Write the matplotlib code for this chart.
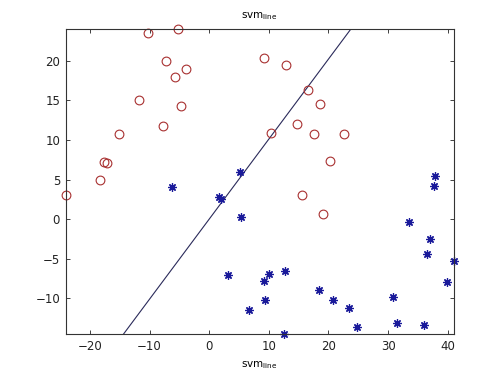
import matplotlib
matplotlib.use("Agg")
import matplotlib.pyplot as plt
import numpy as np

# Class 1 (red circles)
red_x = [-10.2, -5.2, -7.2, -3.9, -5.8, -11.8, -4.7, -7.7, -15.1, -17.7, -17.15, -18.3, -24.07,
         9.2, 12.8, 16.6, 18.5, 14.7, 10.4, 17.5, 22.6, 20.3, 15.5, 19.1]
red_y = [23.5, 24.0, 20.0, 18.9, 18.0, 15.06, 14.25, 11.8, 10.8, 7.2, 7.1, 4.95, 3.1,
         20.3, 19.46, 16.3, 14.5, 12.0, 10.86, 10.8, 10.8, 7.3, 3.1, 0.67]

# Class 2 (blue stars)
blue_x = [-6.2, 1.6, 1.9, 5.3, 5.1, 3.2, 6.6, 37.9, 37.7, 33.5, 37.1, 36.5, 41.0, 39.8,
          30.9, 31.5, 36.1, 24.8, 23.5, 20.7, 18.4, 12.7, 10.0, 9.2, 9.3, 12.5]
blue_y = [4.06, 2.8, 2.5, 0.25, 5.9, -7.08, -11.45, 5.4, 4.15, -0.42, -2.5, -4.45, -5.3, -7.9,
          -9.85, -13.1, -13.4, -13.6, -11.2, -10.2, -8.97, -6.6, -6.9, -7.8, -10.2, -14.5]

# Separating line y = slope * x + intercept
line_slope = 1.01
line_intercept = 0.0

x_min, x_max = min(red_x + blue_x), max(red_x + blue_x)
y_min, y_max = min(red_y + blue_y), max(red_y + blue_y)

fig = plt.figure(figsize=(5.01, 3.75), dpi=100)
ax = fig.add_axes([0.131, 0.1093, 0.7746, 0.8134])

ly = np.array([y_min, y_max])
lx = (ly - line_intercept) / line_slope
ax.plot(lx, ly, color='#2a2a5a', lw=0.8, zorder=1)

ax.plot(red_x, red_y, linestyle='none', marker='o', markersize=6.3,
        markerfacecolor='none', markeredgecolor='#a83030', markeredgewidth=0.8, clip_on=False)
ax.plot(blue_x, blue_y, linestyle='none', marker=(8, 2, 0), markersize=6,
        markeredgecolor='#1a1a9a', markeredgewidth=0.9, clip_on=False)

ax.set_xlim(x_min, x_max)
ax.set_ylim(y_min, y_max)
ax.set_xticks([-20, -10, 0, 10, 20, 30, 40])
ax.set_yticks([-10, -5, 0, 5, 10, 15, 20])
ax.tick_params(direction='in', top=True, right=True, length=3, width=0.6,
               labelsize=8.5, colors='#222222', pad=4)
for s in ax.spines.values():
    s.set_linewidth(0.8)
    s.set_color('#333333')

ax.set_title('svm$_{\\mathregular{line}}$', fontsize=7.5, pad=8)
ax.set_xlabel('svm$_{\\mathregular{line}}$', fontsize=7.5, labelpad=5)

fig.savefig('out.png', dpi=100)
